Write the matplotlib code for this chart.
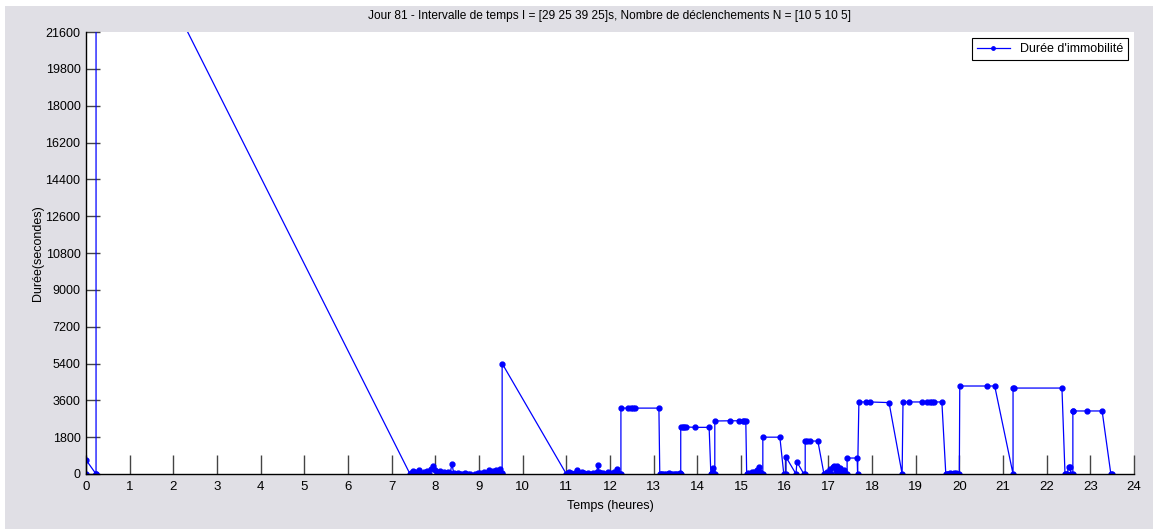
import matplotlib
matplotlib.use('Agg')
import matplotlib.pyplot as plt
from matplotlib.patches import Rectangle
import numpy as np

#---------------------------------- data ----------------------------------
# debut de journee
t_debut = [0.0, 0.0, 0.23, 0.23, 0.23]
d_debut = [0, 690, 0, 0, 30500]

# zones d'activite (durees proches de zero)
t_zone1 = [7.42, 7.45, 7.48, 7.52, 7.55, 7.58, 7.62, 7.66, 7.70, 7.74, 7.78, 7.82,
           7.86, 7.90, 7.95, 7.99, 8.03, 8.07, 8.11, 8.16, 8.20, 8.25, 8.30, 8.34,
           8.38, 8.42, 8.47, 8.52, 8.57, 8.62, 8.68, 8.74, 8.80, 8.90, 8.97, 9.02,
           9.07, 9.12, 9.17, 9.22, 9.27, 9.32, 9.36, 9.40, 9.44, 9.48, 9.52, 9.53]
d_zone1 = [0, 60, 150, 80, 0, 120, 180, 60, 0, 90, 40, 130,
           0, 250, 390, 200, 110, 60, 150, 0, 80, 40, 120, 30,
           490, 60, 0, 50, 20, 0, 40, 0, 0, 0, 30, 60,
           0, 100, 50, 180, 30, 140, 0, 200, 90, 220, 60, 0]

t_pic = [9.53]
d_pic = [5400]

t_zone2 = [11.0, 11.03, 11.07, 11.11, 11.15, 11.19, 11.24, 11.28, 11.32, 11.37,
           11.41, 11.46, 11.50, 11.55, 11.60, 11.65, 11.70, 11.72, 11.75, 11.80,
           11.85, 11.90, 11.95, 12.00, 12.05, 12.10, 12.15, 12.19, 12.23, 12.25]
d_zone2 = [0, 40, 80, 30, 0, 60, 200, 40, 0, 90,
           30, 0, 70, 20, 50, 0, 120, 440, 120, 30,
           60, 0, 90, 40, 20, 120, 250, 60, 0, 0]

t_suite = [12.25, 12.42, 12.47, 12.52, 12.57, 13.12,
           13.14, 13.17, 13.20, 13.24, 13.28, 13.32, 13.36, 13.40, 13.44, 13.48,
           13.52, 13.56, 13.60, 13.62,
           13.62, 13.67, 13.70, 13.73, 13.95, 14.27,
           14.31, 14.33, 14.35, 14.37, 14.40,
           14.40, 14.75, 14.95, 15.04, 15.08, 15.11,
           15.13, 15.17, 15.21, 15.25, 15.29, 15.33, 15.37, 15.41, 15.44, 15.47, 15.50,
           15.50, 15.89, 15.98, 16.03, 16.03, 16.26, 16.28, 16.44, 16.47,
           16.47, 16.52, 16.57, 16.76,
           16.90, 16.93, 16.96, 17.00, 17.03, 17.06, 17.10, 17.13, 17.17, 17.20,
           17.23, 17.26, 17.30, 17.33, 17.36, 17.40, 17.43,
           17.43, 17.66, 17.67,
           17.70, 17.86, 17.95, 18.39, 18.69,
           18.71, 18.85, 19.14, 19.26, 19.33, 19.37, 19.42, 19.60,
           19.69, 19.72, 19.75, 19.78, 19.81, 19.84, 19.87, 19.90, 19.93, 19.96, 20.00,
           20.01, 20.63, 20.81, 21.23,
           21.23, 21.25, 22.35, 22.42,
           22.44, 22.47, 22.50, 22.53, 22.56, 22.60,
           22.60, 22.61, 22.92, 23.27, 23.47, 23.49]
d_suite = [3220, 3220, 3220, 3220, 3220, 3220,
           0, 10, 0, 20, 0, 10, 30, 0, 10, 0,
           20, 0, 30, 0,
           2300, 2300, 2300, 2300, 2280, 2280,
           0, 60, 300, 40, 0,
           2590, 2600, 2600, 2590, 2590, 2590,
           0, 50, 0, 80, 120, 60, 200, 340, 80, 0, 0,
           1800, 1800, 0, 0, 830, 0, 590, 0, 0,
           1610, 1610, 1610, 1610,
           0, 0, 100, 0, 250, 0, 350, 400, 150, 380,
           0, 280, 100, 0, 200, 0, 0,
           780, 780, 0,
           3520, 3520, 3520, 3490, 0,
           3520, 3520, 3520, 3520, 3520, 3520, 3520, 3520,
           0, 20, 0, 30, 0, 10, 40, 0, 60, 20, 0,
           4300, 4300, 4300, 0,
           4200, 4200, 4200, 0,
           0, 0, 340, 340, 0, 0,
           3080, 3080, 3080, 3080, 0, 0]

heures = t_debut + t_zone1 + t_pic + t_zone2 + t_suite
duree = d_debut + d_zone1 + d_pic + d_zone2 + d_suite

titre = 'Jour 81 - Intervalle de temps I = [29 25 39 25]s, Nombre de déclenchements N = [10 5 10 5]'
yticks = np.arange(0, 21601, 1800)
xticks = np.arange(0, 25, 1)

#---------------------------------- plot ----------------------------------
plt.rcParams['font.family'] = ['Liberation Sans Narrow', 'Liberation Sans', 'DejaVu Sans']
gris = '#e0dfe5'

fig = plt.figure(figsize=(11.53, 5.29), dpi=100)
fig.patch.set_facecolor('white')
fig.add_artist(Rectangle((5 / 1153, 0), 1, 1 - 6 / 529, transform=fig.transFigure,
                         facecolor=gris, edgecolor='none', zorder=-1))

ax = fig.add_axes([86 / 1153, 1 - 474 / 529, (1134 - 86) / 1153, (474 - 32) / 529])
ax.plot(heures, duree, '.-', color='#0000ff', lw=0.9, markersize=7,
        label="Durée d'immobilité")

ax.set_xlim(0, 24)
ax.set_ylim(0, 21600)
ax.set_xticks(xticks)
ax.set_yticks(yticks)
ax.spines['top'].set_visible(False)
ax.spines['right'].set_visible(False)
ax.spines['left'].set_linewidth(1)
ax.spines['bottom'].set_linewidth(1)
ax.tick_params(axis='x', direction='in', length=14, width=1, color='#444444',
               labelsize=9.5, pad=5)
ax.tick_params(axis='y', direction='in', length=10, width=1, color='#444444',
               labelsize=9, pad=4)

ax.set_title(titre, fontsize=8.6, pad=9)
ax.set_xlabel('Temps (heures)', fontsize=9, labelpad=5)
ax.set_ylabel('Durée(secondes)', fontsize=9, labelpad=1)

leg = ax.legend(loc='upper right', fontsize=9, fancybox=False, framealpha=1,
                edgecolor='black', handlelength=2.6, borderaxespad=0.5,
                markerscale=0.7)
leg.get_frame().set_linewidth(0.8)

fig.savefig('out.png', dpi=100, facecolor=fig.get_facecolor())
